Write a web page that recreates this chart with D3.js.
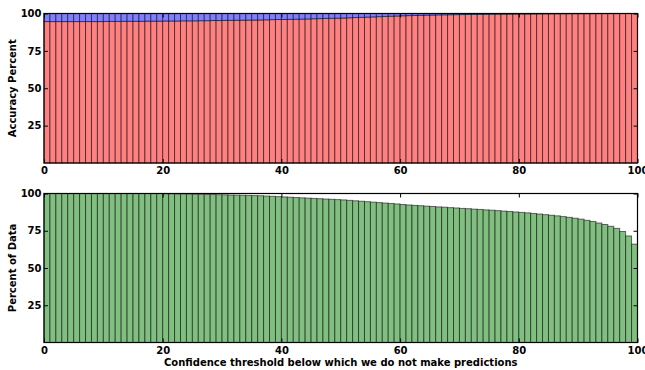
<!DOCTYPE html>
<html>
<head>
<meta charset="utf-8">
<script src="https://cdn.jsdelivr.net/npm/d3@7/dist/d3.min.js"></script>
<style>
  body { margin: 0; background: #fff; }
  svg text { font-family: "DejaVu Sans", sans-serif; font-weight: bold; font-size: 10px; fill: #000; }
</style>
</head>
<body>
<div id="canvas"></div>
<script>
// confidence thresholds (left edge of each bar)
const thresholds = [
  0,1,2,3,4,5,6,7,8,9,10,11,12,13,14,15,16,17,18,19,
  20,21,22,23,24,25,26,27,28,29,30,31,32,33,34,35,36,37,38,39,
  40,41,42,43,44,45,46,47,48,49,50,51,52,53,54,55,56,57,58,59,
  60,61,62,63,64,65,66,67,68,69,70,71,72,73,74,75,76,77,78,79,
  80,81,82,83,84,85,86,87,88,89,90,91,92,93,94,95,96,97,98,99
];

// accuracy (%) on predictions kept at each threshold
const accuracy = [
  94.6,94.6,94.6,94.6,94.6,94.6,94.6,94.6,94.6,94.6,
  94.7,94.7,94.7,94.8,94.8,94.8,94.8,94.9,94.9,94.9,
  95.0,95.0,95.0,95.1,95.1,95.1,95.2,95.2,95.3,95.3,
  95.4,95.45,95.5,95.55,95.6,95.65,95.7,95.8,95.9,96.0,
  96.0,96.1,96.2,96.3,96.4,96.5,96.6,96.7,96.8,96.9,
  97.0,97.15,97.3,97.45,97.6,97.75,97.9,98.05,98.2,98.35,
  98.5,98.6,98.7,98.8,98.9,99.0,99.1,99.15,99.2,99.25,
  99.3,99.35,99.4,99.45,99.5,99.55,99.6,99.62,99.65,99.68,
  99.7,99.72,99.75,99.78,99.8,99.82,99.85,99.87,99.9,99.9,
  99.92,99.93,99.94,99.95,99.96,99.97,99.98,99.99,100,100
];

// percent of data still predicted at each threshold
const coverage = [
  100,100,100,100,100,100,100,100,100,100,
  100,100,100,100,100,100,100,100,100,100,
  99.9,99.9,99.8,99.8,99.7,99.6,99.5,99.4,99.3,99.2,
  99.1,99.0,98.9,98.8,98.7,98.6,98.5,98.3,98.1,97.9,
  97.7,97.5,97.3,97.1,96.9,96.7,96.5,96.3,96.1,95.9,
  95.7,95.4,95.1,94.8,94.5,94.2,93.9,93.6,93.3,93.0,
  92.6,92.3,92.0,91.8,91.5,91.3,91.0,90.8,90.5,90.3,
  90.0,89.8,89.5,89.3,89.0,88.8,88.5,88.2,87.9,87.6,
  87.3,87.0,86.6,86.2,85.8,85.4,85.0,84.5,84.0,83.4,
  82.8,82.0,81.2,80.2,79.2,78.0,76.6,74.5,71.5,66.0
];

const xTicks = [0, 20, 40, 60, 80, 100];
const yTicks = [25, 50, 75, 100];

const width = 645;
const height = 370;
const left = 44, right = 637.5;

const svg = d3.select("#canvas").append("svg")
  .attr("width", width)
  .attr("height", height);

const x = d3.scaleLinear().domain([0, 100]).range([left, right]);

function panel(top, bottom, ylabel, layers) {
  const y = d3.scaleLinear().domain([0, 100]).range([bottom, top]);
  const g = svg.append("g");

  layers.forEach(l => {
    g.append("g").selectAll("rect")
      .data(thresholds)
      .enter().append("rect")
      .attr("x", (d) => x(d))
      .attr("width", x(1) - x(0))
      .attr("y", (d, i) => y(l.hi(i)))
      .attr("height", (d, i) => y(l.lo(i)) - y(l.hi(i)))
      .style("fill", l.color)
      .style("stroke", "#000")
      .style("stroke-opacity", 0.55)
      .style("stroke-width", 1);
  });

  // ticks pointing inward on all four sides
  const xb = g.append("g")
    .attr("transform", `translate(0,${bottom})`)
    .call(d3.axisBottom(x).tickValues(xTicks).tickSize(-4).tickPadding(4).tickFormat(d3.format("d")));
  const xt = g.append("g")
    .attr("transform", `translate(0,${top})`)
    .call(d3.axisTop(x).tickValues(xTicks).tickSize(-4).tickFormat(""));
  const yl = g.append("g")
    .attr("transform", `translate(${left},0)`)
    .call(d3.axisLeft(y).tickValues(yTicks).tickSize(-4).tickPadding(2.5).tickFormat(d3.format("d")));
  const yr = g.append("g")
    .attr("transform", `translate(${right},0)`)
    .call(d3.axisRight(y).tickValues(yTicks).tickSize(-4).tickFormat(""));

  [xb, xt, yl, yr].forEach(a => {
    a.select(".domain").remove();
    a.selectAll("line").style("stroke", "#000").style("stroke-width", 1);
    a.selectAll("text").attr("font-family", null).attr("font-size", null);
  });

  g.append("rect")
    .attr("x", left).attr("y", top)
    .attr("width", right - left).attr("height", bottom - top)
    .style("fill", "none").style("stroke", "#000").style("stroke-width", 1.2);

  g.append("text")
    .attr("transform", `translate(16,${(top + bottom) / 2}) rotate(-90)`)
    .attr("text-anchor", "middle")
    .text(ylabel);

  return g;
}

panel(13.5, 163, "Accuracy Percent", [
  { color: "#ff8080", lo: () => 0, hi: i => accuracy[i] },
  { color: "#8080ff", lo: i => accuracy[i], hi: () => 100 }
]);

panel(193.5, 342.5, "Percent of Data", [
  { color: "#80bf80", lo: () => 0, hi: i => coverage[i] }
]);

svg.append("text")
  .attr("x", (left + right) / 2)
  .attr("y", 365.5)
  .attr("text-anchor", "middle")
  .text("Confidence threshold below which we do not make predictions");
</script>
</body>
</html>
